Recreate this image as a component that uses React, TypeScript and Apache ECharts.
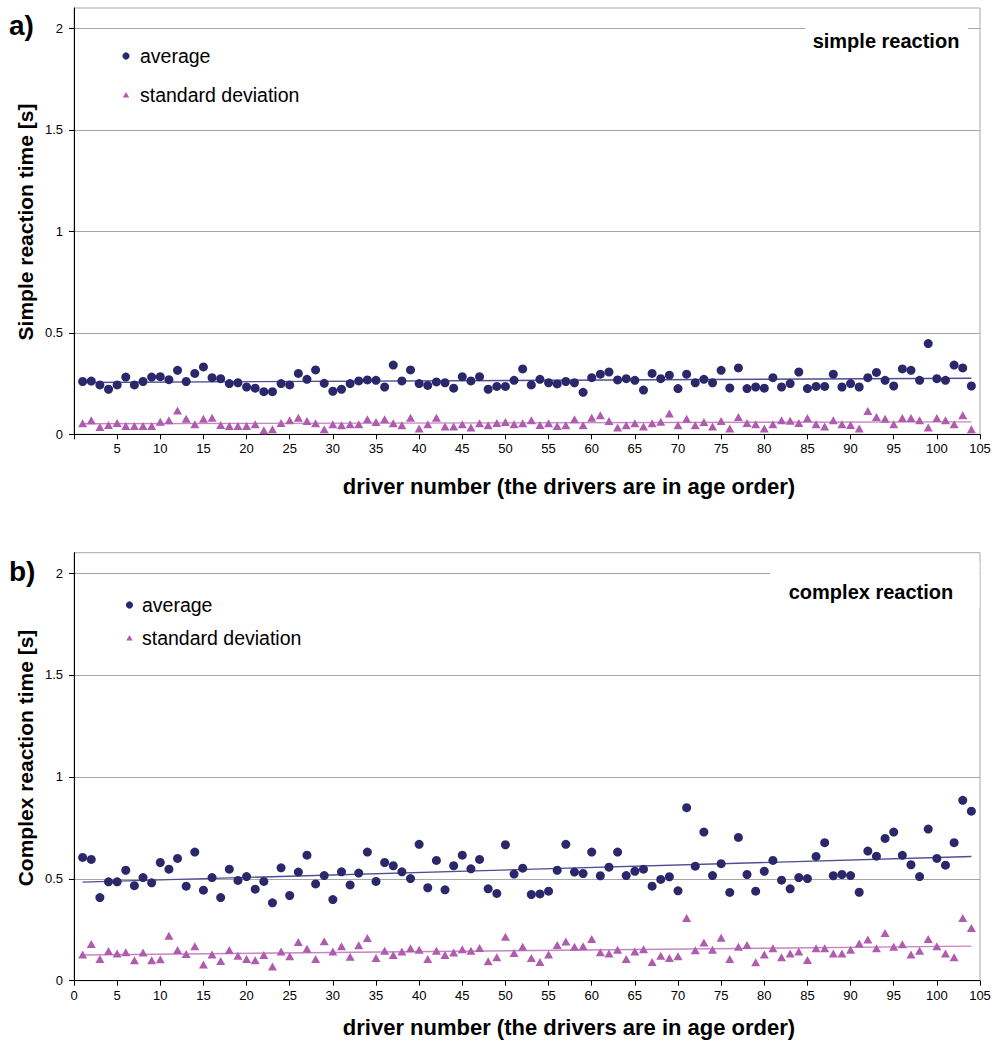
import React, { useEffect, useRef } from "react";
import * as echarts from "echarts";

// ---- data ----
const driverCount = 104;

const simpleAverage = [
  0.26, 0.262, 0.243, 0.222, 0.243, 0.282, 0.243, 0.26, 0.282, 0.284,
  0.269, 0.315, 0.26, 0.3, 0.332, 0.279, 0.274, 0.25, 0.254, 0.233,
  0.227, 0.21, 0.21, 0.25, 0.243, 0.3, 0.271, 0.317, 0.251, 0.212,
  0.222, 0.25, 0.263, 0.268, 0.266, 0.233, 0.341, 0.263, 0.317, 0.25,
  0.241, 0.258, 0.254, 0.227, 0.284, 0.263, 0.284, 0.222, 0.236, 0.236,
  0.266, 0.322, 0.243, 0.271, 0.254, 0.248, 0.26, 0.254, 0.207, 0.279,
  0.296, 0.307, 0.268, 0.274, 0.266, 0.218, 0.3, 0.274, 0.291, 0.225,
  0.296, 0.254, 0.271, 0.254, 0.315, 0.228, 0.327, 0.225, 0.233, 0.227,
  0.279, 0.233, 0.25, 0.307, 0.225, 0.236, 0.236, 0.296, 0.233, 0.25,
  0.233, 0.279, 0.305, 0.266, 0.238, 0.322, 0.315, 0.266, 0.447, 0.274,
  0.266, 0.341, 0.327, 0.238,
];

const simpleStdDev = [
  0.054, 0.069, 0.036, 0.046, 0.056, 0.041, 0.041, 0.041, 0.041, 0.062,
  0.069, 0.117, 0.077, 0.049, 0.077, 0.082, 0.046, 0.041, 0.041, 0.041,
  0.049, 0.02, 0.025, 0.056, 0.069, 0.082, 0.066, 0.054, 0.025, 0.049,
  0.044, 0.049, 0.049, 0.074, 0.061, 0.074, 0.054, 0.044, 0.082, 0.028,
  0.049, 0.082, 0.039, 0.039, 0.049, 0.033, 0.054, 0.044, 0.056, 0.061,
  0.049, 0.054, 0.069, 0.046, 0.054, 0.041, 0.044, 0.074, 0.044, 0.082,
  0.094, 0.066, 0.034, 0.044, 0.054, 0.039, 0.054, 0.062, 0.102, 0.044,
  0.077, 0.044, 0.061, 0.039, 0.066, 0.028, 0.085, 0.056, 0.049, 0.028,
  0.049, 0.069, 0.067, 0.056, 0.08, 0.049, 0.039, 0.069, 0.049, 0.046,
  0.028, 0.115, 0.085, 0.077, 0.049, 0.08, 0.08, 0.069, 0.034, 0.08,
  0.069, 0.049, 0.094, 0.025,
];

const complexAverage = [
  0.605, 0.595, 0.408, 0.485, 0.485, 0.542, 0.466, 0.506, 0.48, 0.58,
  0.547, 0.6, 0.464, 0.631, 0.444, 0.506, 0.408, 0.547, 0.492, 0.511,
  0.449, 0.487, 0.382, 0.554, 0.418, 0.533, 0.616, 0.475, 0.516, 0.398,
  0.534, 0.47, 0.528, 0.631, 0.487, 0.58, 0.564, 0.534, 0.501, 0.669,
  0.456, 0.59, 0.446, 0.564, 0.616, 0.549, 0.595, 0.451, 0.428, 0.667,
  0.523, 0.552, 0.423, 0.426, 0.439, 0.542, 0.669, 0.533, 0.526, 0.631,
  0.515, 0.557, 0.631, 0.516, 0.537, 0.547, 0.464, 0.497, 0.51, 0.441,
  0.849, 0.562, 0.729, 0.516, 0.574, 0.433, 0.703, 0.521, 0.439, 0.537,
  0.59, 0.493, 0.451, 0.506, 0.501, 0.61, 0.677, 0.515, 0.521, 0.516,
  0.434, 0.636, 0.611, 0.698, 0.729, 0.615, 0.569, 0.511, 0.744, 0.6,
  0.567, 0.677, 0.885, 0.832,
];

const complexStdDev = [
  0.128, 0.18, 0.107, 0.146, 0.133, 0.139, 0.1, 0.138, 0.1, 0.105,
  0.22, 0.151, 0.131, 0.169, 0.08, 0.128, 0.097, 0.151, 0.123, 0.107,
  0.1, 0.126, 0.07, 0.143, 0.12, 0.19, 0.157, 0.107, 0.193, 0.143,
  0.169, 0.118, 0.174, 0.21, 0.111, 0.147, 0.126, 0.143, 0.159, 0.152,
  0.107, 0.147, 0.126, 0.138, 0.154, 0.147, 0.161, 0.095, 0.115, 0.216,
  0.136, 0.166, 0.111, 0.092, 0.129, 0.175, 0.192, 0.166, 0.169, 0.205,
  0.139, 0.134, 0.152, 0.107, 0.143, 0.154, 0.092, 0.123, 0.111, 0.12,
  0.308, 0.149, 0.187, 0.152, 0.211, 0.107, 0.166, 0.175, 0.09, 0.129,
  0.159, 0.115, 0.134, 0.143, 0.102, 0.159, 0.159, 0.134, 0.134, 0.152,
  0.183, 0.202, 0.159, 0.234, 0.166, 0.179, 0.128, 0.147, 0.205, 0.169,
  0.134, 0.115, 0.308, 0.259,
];

const yTickValues = [0, 0.5, 1, 1.5, 2];
const legendNames = ["average", "standard deviation"];
const panelLabels = ["a)", "b)"];
const panelTitles = ["simple reaction", "complex reaction"];
const yTitles = ["Simple reaction time [s]", "Complex reaction time [s]"];
const xTitle = "driver number (the drivers are in age order)";

// ---- helpers ----
const toPoints = (ys: number[]) => ys.map((v, i) => [i + 1, v]);
const trend = (ys: number[]) => {
  const n = ys.length;
  let sx = 0, sy = 0, sxx = 0, sxy = 0;
  ys.forEach((y, i) => {
    const x = i + 1;
    sx += x; sy += y; sxx += x * x; sxy += x * y;
  });
  const b = (n * sxy - sx * sy) / (n * sxx - sx * sx);
  const a = (sy - b * sx) / n;
  return [[1, a + b], [n, a + b * n]];
};

const FONT = "'Liberation Sans', Arial, Helvetica, sans-serif";
const AVG_COLOR = "#2a286a";
const SD_COLOR = "#b05cae";
const AVG_TREND = "#4f4d94";
const SD_TREND = "#c685c4";
const GRID_COLOR = "#a6a6a6";

export default function App() {
  const ref = useRef<HTMLDivElement>(null);

  useEffect(() => {
    if (!ref.current) return;
    const chart = echarts.init(ref.current, undefined, { renderer: "svg" });

    const grids = [
      { left: 74, top: 8, width: 906, height: 426.3 },
      { left: 74, top: 552.7, width: 906, height: 428 },
    ];

    const xAxis = grids.map((_, gi) => ({
      gridIndex: gi,
      type: "value",
      min: 0,
      max: 105,
      interval: 5,
      axisLine: { show: true, onZero: false, lineStyle: { color: "#000", width: 1 } },
      axisTick: { show: true, length: 5, lineStyle: { color: "#000" } },
      axisLabel: {
        color: "#000",
        fontSize: 13,
        fontFamily: FONT,
        margin: 8,
        formatter: (v: number) => (gi === 0 && v === 0 ? "" : String(v)),
      },
      splitLine: { show: false },
    }));

    const yAxis = grids.map((_, gi) => ({
      gridIndex: gi,
      type: "value",
      min: 0,
      max: 2.1,
      interval: 0.5,
      axisLine: { show: true, lineStyle: { color: "#000", width: 1 } },
      axisTick: { show: true, length: 5, lineStyle: { color: "#000" }, customValues: yTickValues },
      axisLabel: {
        color: "#000",
        fontSize: 13,
        fontFamily: FONT,
        margin: 11,
        customValues: yTickValues,
        formatter: (v: number) => (v > 2.05 ? "" : String(v)),
      },
      splitLine: { show: true, lineStyle: { color: GRID_COLOR, width: 1 } },
    }));

    const datasets = [
      { avg: simpleAverage, sd: simpleStdDev },
      { avg: complexAverage, sd: complexStdDev },
    ];

    const series: any[] = [];
    datasets.forEach((d, gi) => {
      series.push({
        name: legendNames[0],
        type: "scatter",
        xAxisIndex: gi,
        yAxisIndex: gi,
        symbol: "circle",
        symbolSize: 9,
        itemStyle: { color: AVG_COLOR, opacity: 1 },
        data: toPoints(d.avg.slice(0, driverCount)),
        z: 3,
      });
      series.push({
        name: legendNames[1],
        type: "scatter",
        xAxisIndex: gi,
        yAxisIndex: gi,
        symbol: "triangle",
        symbolSize: [9, 8],
        itemStyle: { color: SD_COLOR, opacity: 1 },
        data: toPoints(d.sd.slice(0, driverCount)),
        z: 3,
      });
      series.push({
        type: "line",
        xAxisIndex: gi,
        yAxisIndex: gi,
        showSymbol: false,
        silent: true,
        lineStyle: { color: AVG_TREND, width: 1.4 },
        data: trend(d.avg),
        z: 2,
      });
      series.push({
        type: "line",
        xAxisIndex: gi,
        yAxisIndex: gi,
        showSymbol: false,
        silent: true,
        lineStyle: { color: SD_TREND, width: 1.4 },
        data: trend(d.sd),
        z: 2,
      });
    });

    const txt = (
      text: string,
      x: number,
      y: number,
      size: number,
      weight: string,
      align: string,
      rotation = 0
    ) => ({
      type: "text",
      x,
      y,
      rotation,
      z: 10,
      style: {
        text,
        fill: "#000",
        fontSize: size,
        fontWeight: weight,
        fontFamily: FONT,
        align,
        textAlign: align,
        verticalAlign: "middle",
        textVerticalAlign: "middle",
      },
    });

    const legendTri = (cx: number, cy: number) => ({
      type: "polygon",
      z: 10,
      shape: { points: [[cx, cy - 3], [cx + 3.2, cy + 2.6], [cx - 3.2, cy + 2.6]] },
      style: { fill: SD_COLOR },
    });
    const legendDot = (cx: number, cy: number) => ({
      type: "circle",
      z: 10,
      shape: { cx, cy, r: 3.6 },
      style: { fill: AVG_COLOR },
    });

    const graphic: any[] = [
      // panel letters
      txt(panelLabels[0], 9, 25, 28, "bold", "left"),
      txt(panelLabels[1], 9, 571, 28, "bold", "left"),
      // title boxes (white, hiding the gridline at 2)
      { type: "rect", z: 1, shape: { x: 805, y: 18, width: 163, height: 42 }, style: { fill: "#fff" } },
      { type: "rect", z: 1, shape: { x: 770, y: 562, width: 209.5, height: 46 }, style: { fill: "#fff" } },
      txt(panelTitles[0], 886, 41, 20, "bold", "center"),
      txt(panelTitles[1], 871, 592, 20, "bold", "center"),
      // y titles
      txt(yTitles[0], 25, 222, 21, "bold", "center", Math.PI / 2),
      txt(yTitles[1], 25, 758, 21, "bold", "center", Math.PI / 2),
      // x titles
      txt(xTitle, 569, 486, 22, "bold", "center"),
      txt(xTitle, 569, 1027, 22, "bold", "center"),
      // legends
      legendDot(126, 56),
      txt(legendNames[0], 140, 56, 19.5, "normal", "left"),
      legendTri(126, 95),
      txt(legendNames[1], 140, 95, 19.5, "normal", "left"),
      legendDot(129.5, 605),
      txt(legendNames[0], 142, 605, 19.5, "normal", "left"),
      legendTri(129.5, 638),
      txt(legendNames[1], 142, 638, 19.5, "normal", "left"),
    ];

    chart.setOption({
      animation: false,
      backgroundColor: "#fff",
      textStyle: { fontFamily: FONT },
      grid: grids.map((g) => ({
        ...g,
        show: true,
        borderColor: GRID_COLOR,
        borderWidth: 1,
        backgroundColor: "transparent",
      })),
      xAxis,
      yAxis,
      series,
      graphic,
    });

    return () => chart.dispose();
  }, []);

  return (
    <div
      ref={ref}
      style={{ position: "absolute", left: 0, top: 0, width: 994, height: 1041 }}
    />
  );
}
